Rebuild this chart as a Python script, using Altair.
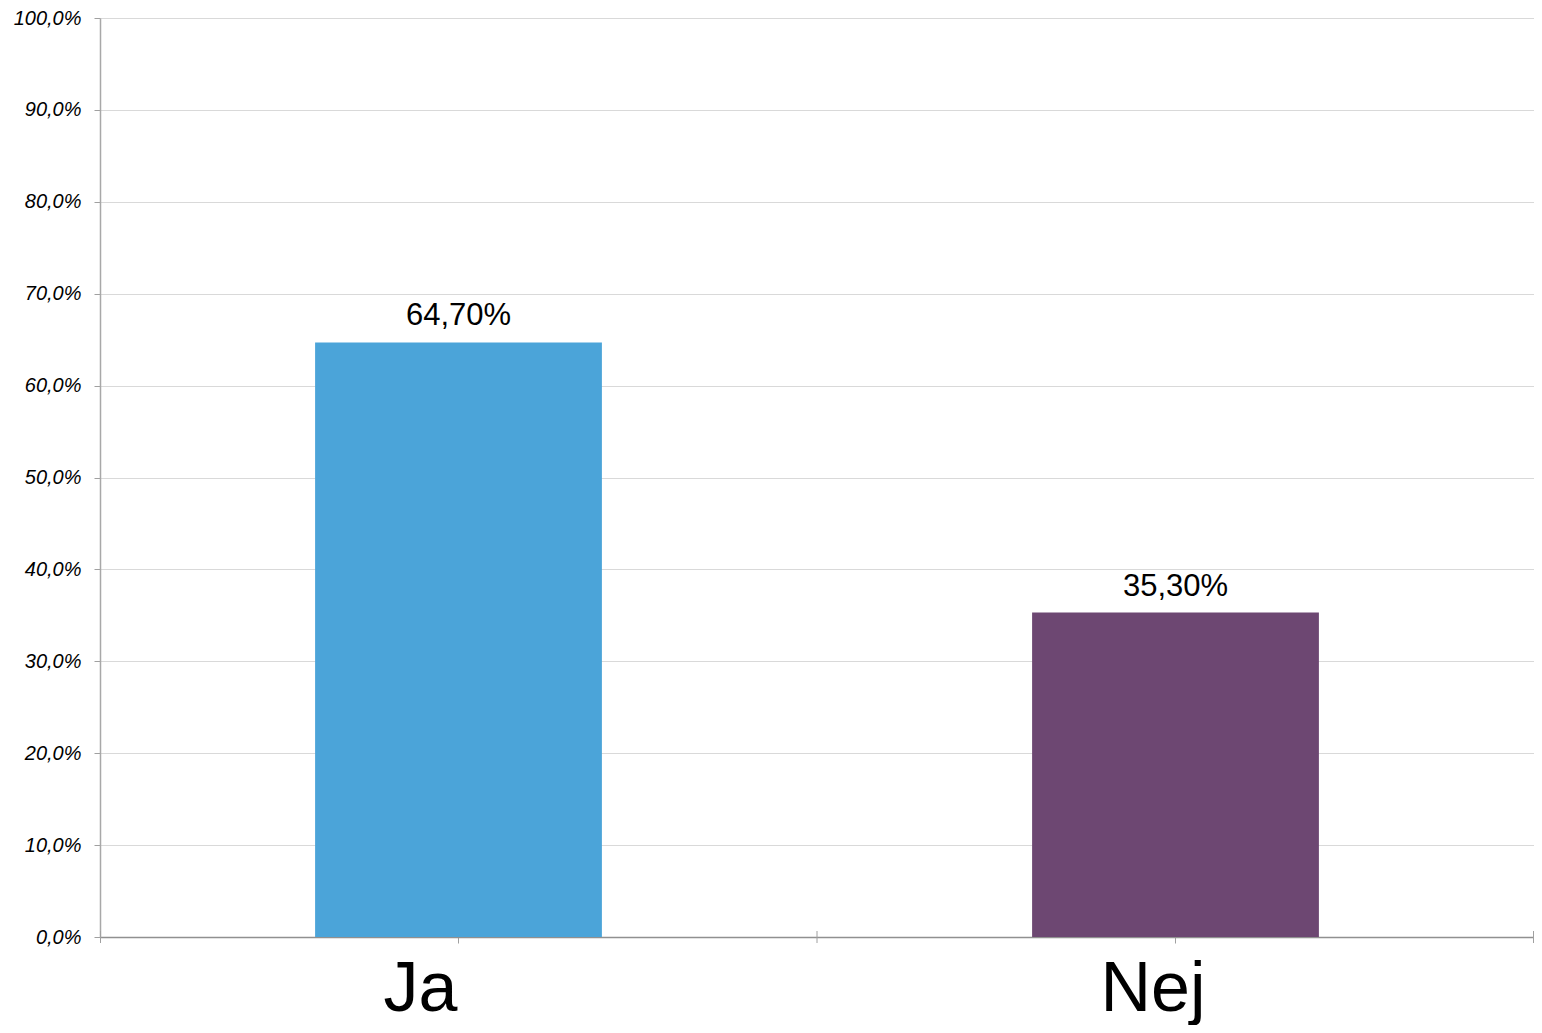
import altair as alt
import pandas as pd

categories = ["Ja", "Nej"]
values = [0.647, 0.353]
colors = ["#4ba4d9", "#6d4772"]

W = 1434
H = 919
FONT = "Liberation Sans"

df = pd.DataFrame({"cat": categories, "v": values})

x = alt.X(
    "cat:N",
    sort=categories,
    scale=alt.Scale(paddingInner=0.6, paddingOuter=0.3),
    axis=alt.Axis(
        title=None,
        labelAngle=0,
        labelFont=FONT,
        labelFontSize=70,
        labelColor="#000000",
        labelAlign="left",
        labelOffset=-75,
        labelBaseline="alphabetic",
        labelPadding=67,
        tickSize=6,
        tickColor="#a0a0a0",
        domainColor="#909090",
        domainWidth=1.5,
        grid=False,
    ),
)

y = alt.Y(
    "v:Q",
    scale=alt.Scale(domain=[0, 1], nice=False),
    axis=alt.Axis(
        title=None,
        values=[i / 10 for i in range(11)],
        labelExpr="replace(format(datum.value, '.1%'), '.', ',')",
        labelFont=FONT,
        labelFontSize=20,
        labelFontStyle="italic",
        labelColor="#000000",
        labelPadding=13,
        labelBaseline="middle",
        tickSize=6,
        tickColor="#a0a0a0",
        domainColor="#a8a8a8",
        domainWidth=1.5,
        gridColor="#d9d9d9",
    ),
)

bars = alt.Chart(df).mark_bar().encode(
    x=x,
    y=y,
    color=alt.Color("cat:N", scale=alt.Scale(domain=categories, range=colors), legend=None),
)

labels = alt.Chart(df).transform_calculate(
    lab="replace(format(datum.v, '.2%'), '.', ',')"
).mark_text(
    font=FONT, fontSize=31, baseline="alphabetic", dy=-17, color="#000000"
).encode(x=alt.X("cat:N", sort=categories), y="v:Q", text="lab:N")

one = alt.Data(values=[{}])
rules = [
    alt.Chart(one).mark_rule(color="#a0a0a0", strokeWidth=1).encode(
        x=alt.value(px), y=alt.value(H - 6), y2=alt.value(H + 6)
    )
    for px in [0.5, W / 2, W - 0.5]
]

chart = alt.layer(bars, labels, *rules).properties(
    width=W,
    height=H,
    padding={"left": 92, "top": 10, "right": 0, "bottom": 88},
    autosize=alt.AutoSizeParams(type="none"),
).configure_view(stroke=None).configure(background="#ffffff")

chart.save("out.html", embed_options={"renderer": "svg", "actions": False})
